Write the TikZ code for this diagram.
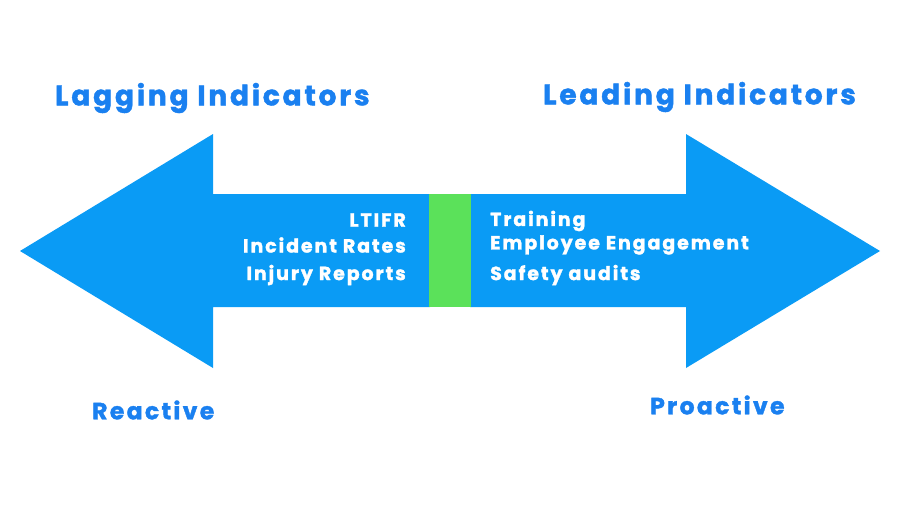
\documentclass[tikz,border=0pt]{standalone}
\usepackage{fontspec}
\setmainfont{Poppins}
\newfontfamily\heavy{Poppins}[LetterSpace=10, BoldFeatures={FakeBold=1.5}]
\usepackage{tikz}
\usepackage{xcolor}

\definecolor{arrowblue}{HTML}{0A9BF5}
\definecolor{midgreen}{HTML}{5BE15A}
\definecolor{titleblue}{HTML}{1A80F0}

\begin{document}
\begin{tikzpicture}[x=1pt,y=-1pt,
  title/.style={text=titleblue, font=\heavy\fontsize{28}{32}\selectfont\bfseries, inner sep=0pt},
  side/.style={text=titleblue, font=\heavy\fontsize{23.5}{28}\selectfont\bfseries, inner sep=0pt},
  item/.style={text=white, font=\heavy\fontsize{19}{22}\selectfont\bfseries, inner sep=0pt}]
\useasboundingbox (0,0) rectangle (900,506);
\fill[arrowblue] (20,251) -- (213,134) -- (213,194) -- (430,194) -- (430,307) -- (213,307) -- (213,368) -- cycle;
\fill[arrowblue] (880,251) -- (686,134) -- (686,194) -- (470,194) -- (470,307) -- (686,307) -- (686,368) -- cycle;
\fill[midgreen] (429,194) rectangle (471,307);
\node[title, anchor=west] (lag) at (55,98) {Lagging Indicators};
\node[title, anchor=west] (lead) at (543,97) {Leading Indicators};
\node[side, anchor=west] (react) at (92,410) {Reactive};
\node[side, anchor=west] (proact) at (650,405) {Proactive};
\node[item, anchor=east] (ltifr) at (406,220) {LTIFR};
\node[item, anchor=east] (incid) at (406,245) {Incident Rates};
\node[item, anchor=east] (injury) at (406,275) {Injury Reports};
\node[item, anchor=west] (train) at (490,221) {Training};
\node[item, anchor=west] (engage) at (490,245) {Employee Engagement};
\node[item, anchor=west] (audit) at (490,275) {Safety audits};
\end{tikzpicture}
\end{document}
